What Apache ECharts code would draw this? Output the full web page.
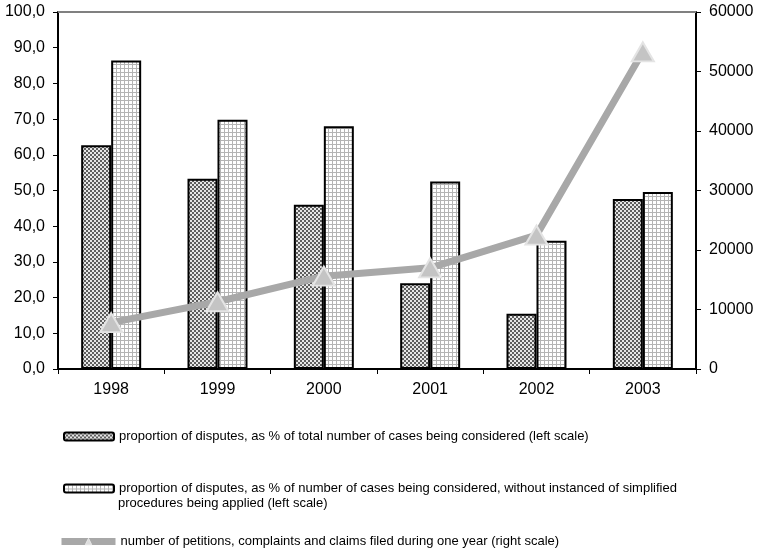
<!DOCTYPE html>
<html>
<head>
<meta charset="utf-8">
<script src="https://cdn.jsdelivr.net/npm/echarts@6/dist/echarts.min.js"></script>
<style>html,body{margin:0;padding:0;background:#fff}#c{width:757px;height:551px}</style>
</head>
<body>
<div id="c"></div>
<script>
var years = ['1998', '1999', '2000', '2001', '2002', '2003'];
var shareTotal = [62.7, 53.3, 46.0, 24.0, 15.5, 47.6];
var shareNoSimplified = [86.4, 69.8, 68.0, 52.5, 35.9, 49.6];
var petitions = [7800, 11300, 15600, 17000, 22500, 53300];
var leftTicks = {min: 0, max: 100, interval: 10};
var rightTicks = {min: 0, max: 60000, interval: 10000};

var name1 = 'proportion of disputes, as % of total number of cases being considered (left scale)';
var name2 = 'proportion of disputes, as % of number of cases being considered, without instanced of simplified';
var name2b = 'procedures being applied (left scale)';
var name3 = 'number of petitions, complaints and claims filed during one year (right scale)';

function checker() {
  var c = document.createElement('canvas'); c.width = 4; c.height = 4;
  var g = c.getContext('2d');
  g.fillStyle = '#e6e6e6'; g.fillRect(0, 0, 4, 4);
  g.fillStyle = '#5e5e5e'; g.fillRect(0, 0, 2, 2); g.fillRect(2, 2, 2, 2);
  return {image: c, repeat: 'repeat'};
}
function gridPat() {
  var c = document.createElement('canvas'); c.width = 4; c.height = 4;
  var g = c.getContext('2d');
  g.fillStyle = '#ffffff'; g.fillRect(0, 0, 4, 4);
  g.fillStyle = '#b4b4b4'; g.fillRect(0, 0, 1, 4); g.fillRect(0, 0, 4, 1);
  return {image: c, repeat: 'repeat'};
}

var chart = echarts.init(document.getElementById('c'), null, {renderer: 'canvas'});
var axisFont = {fontFamily: 'Liberation Sans, Arial', fontSize: 16, color: '#000'};
var legFont = {fontFamily: 'Liberation Sans, Arial', fontSize: 13, color: '#000'};
chart.setOption({
  animation: false,
  backgroundColor: '#fff',
  grid: {left: 58, right: 61, top: 12, bottom: 182, show: false},
  xAxis: {
    type: 'category', data: years, boundaryGap: true,
    axisLine: {lineStyle: {color: '#000', width: 2}},
    axisTick: {show: true, inside: false, length: 5, lineStyle: {color: '#000', width: 1}},
    axisLabel: Object.assign({margin: 13}, axisFont)
  },
  yAxis: [{
    type: 'value', min: leftTicks.min, max: leftTicks.max, interval: leftTicks.interval, position: 'left',
    axisLine: {show: true, lineStyle: {color: '#000', width: 2}},
    axisTick: {show: true, length: 5, lineStyle: {color: '#000'}},
    splitLine: {show: false},
    axisLabel: Object.assign({margin: 13, formatter: function (v) { return v.toFixed(1).replace('.', ','); }}, axisFont)
  }, {
    type: 'value', min: rightTicks.min, max: rightTicks.max, interval: rightTicks.interval, position: 'right',
    axisLine: {show: true, lineStyle: {color: '#000', width: 2}},
    axisTick: {show: true, length: 5, lineStyle: {color: '#000'}},
    splitLine: {show: false},
    axisLabel: Object.assign({margin: 13, formatter: function (v) { return String(v); }}, axisFont)
  }],
  legend: [{
    data: [name1], left: 63, top: 430, orient: 'vertical', itemWidth: 50, itemHeight: 8, itemGap: 0,
    textStyle: legFont, padding: 0
  }, {
    data: [name2], left: 63, top: 482, orient: 'vertical', itemWidth: 50, itemHeight: 8, itemGap: 0,
    textStyle: legFont, padding: 0
  }, {
    data: [name3], left: 58, top: 535, orient: 'vertical', itemWidth: 54, itemHeight: 8, itemGap: 0,
    textStyle: legFont, padding: 0,
    lineStyle: {width: 7, color: '#a8a8a8'},
    itemStyle: {color: '#dcdcdc', borderColor: '#e8e8e8', borderWidth: 1}
  }],
  graphic: [{
    type: 'line', shape: {x1: 58, y1: 12, x2: 757 - 61, y2: 12},
    style: {stroke: '#808080', lineWidth: 2}, z: 10
  }, {
    type: 'text', left: 118, top: 497,
    style: {text: name2b, font: '13px "Liberation Sans", Arial', fill: '#000'}
  }],
  series: [{
    name: name1, type: 'bar', yAxisIndex: 0, data: shareTotal, barWidth: 30, barGap: '0%',
    itemStyle: {color: checker(), borderColor: '#000', borderWidth: 2}
  }, {
    name: name2, type: 'bar', yAxisIndex: 0, data: shareNoSimplified, barWidth: 30, barGap: '0%',
    itemStyle: {color: gridPat(), borderColor: '#000', borderWidth: 2}
  }, {
    name: name3, type: 'line', yAxisIndex: 1, data: petitions,
    symbol: 'triangle', symbolSize: [22, 19],
    lineStyle: {color: '#a8a8a8', width: 7},
    itemStyle: {color: '#c4c4c4', borderColor: '#e4e4e4', borderWidth: 2}
  }]
});
</script>
</body>
</html>
